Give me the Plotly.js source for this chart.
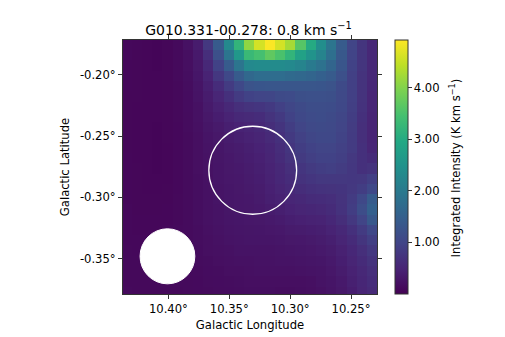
<!DOCTYPE html>
<html><head><meta charset="utf-8">
<script src="https://cdn.plot.ly/plotly-3.0.1.min.js"></script>
<style>html,body{margin:0;padding:0;background:#fff}</style></head>
<body><div id="g" style="width:505px;height:337px"></div>
<script>
const titleText = 'G010.331-00.278: 0.8 km s<sup>−1</sup>';
const xLabel = 'Galactic Longitude';
const yLabel = 'Galactic Latitude';
const cbLabel = 'Integrated Intensity (K km s<sup>−1</sup>)';
const xTickVals = [10.40, 10.35, 10.30, 10.25];
const xTickText = ['10.40°', '10.35°', '10.30°', '10.25°'];
const yTickVals = [-0.20, -0.25, -0.30, -0.35];
const yTickText = ['-0.20°', '-0.25°', '-0.30°', '-0.35°'];
const cbTickVals = [1, 2, 3, 4];
const cbTickText = ['1.00', '2.00', '3.00', '4.00'];
const intensity = [
[.10,.09,.07,.06,.08,.12,.22,.38,.80,1.4,2.3,3.2,4.1,4.6,4.9,4.6,4.25,3.6,3.0,2.4,1.9,1.4,1.0,.75,.55],
[.10,.08,.07,.06,.08,.12,.20,.34,.65,1.2,1.9,2.6,3.3,3.45,3.7,3.5,3.2,2.8,2.5,2.2,1.8,1.35,.98,.75,.55],
[.09,.08,.07,.06,.08,.12,.19,.32,.55,.95,1.4,1.9,2.3,2.35,2.35,2.35,2.3,2.2,2.0,1.85,1.6,1.3,.95,.75,.55],
[.09,.08,.07,.07,.08,.12,.18,.30,.48,.78,1.05,1.4,1.65,1.75,1.75,1.75,1.7,1.65,1.6,1.5,1.4,1.2,.92,.72,.55],
[.09,.08,.07,.07,.08,.11,.17,.27,.42,.62,.85,1.05,1.25,1.3,1.32,1.32,1.32,1.32,1.32,1.3,1.25,1.1,.92,.72,.54],
[.08,.08,.07,.07,.08,.11,.16,.25,.38,.52,.68,.85,.95,1.0,1.02,1.1,1.12,1.18,1.2,1.2,1.18,1.08,.92,.72,.52],
[.08,.07,.07,.07,.08,.11,.16,.23,.35,.45,.56,.66,.72,.76,.82,.92,1.02,1.1,1.14,1.15,1.13,1.05,.9,.7,.52],
[.08,.07,.07,.07,.08,.11,.15,.22,.32,.40,.48,.55,.58,.62,.72,.82,.95,1.05,1.12,1.13,1.1,1.02,.88,.68,.5],
[.08,.07,.07,.06,.08,.10,.15,.21,.29,.35,.42,.47,.5,.55,.64,.74,.88,1.0,1.07,1.1,1.08,1.0,.86,.66,.5],
[.08,.07,.07,.06,.08,.10,.14,.20,.27,.32,.38,.42,.46,.5,.58,.68,.82,.94,1.02,1.06,1.05,.97,.85,.66,.5],
[.08,.07,.07,.06,.07,.10,.14,.19,.25,.30,.35,.38,.42,.47,.53,.63,.76,.88,.96,1.0,1.0,.94,.84,.67,.52],
[.09,.07,.07,.06,.07,.10,.14,.19,.24,.29,.33,.36,.4,.44,.5,.6,.72,.83,.9,.95,.96,.9,.8,.68,.6],
[.09,.08,.07,.06,.07,.10,.14,.19,.24,.28,.32,.34,.38,.42,.48,.56,.66,.76,.83,.88,.9,.86,.78,.68,.72],
[.09,.08,.07,.07,.07,.10,.14,.18,.23,.28,.31,.33,.36,.4,.46,.54,.62,.7,.76,.8,.8,.8,.78,.8,.9],
[.09,.08,.07,.07,.08,.10,.14,.18,.23,.27,.3,.32,.35,.38,.44,.5,.57,.63,.68,.7,.72,.74,.8,.88,1.05],
[.09,.08,.08,.08,.08,.11,.14,.18,.23,.27,.3,.31,.33,.36,.42,.46,.52,.56,.6,.62,.65,.72,.85,1.05,1.4],
[.10,.08,.08,.08,.09,.11,.14,.18,.22,.26,.29,.31,.32,.34,.38,.42,.47,.5,.53,.55,.6,.7,.88,1.15,1.5],
[.10,.09,.09,.09,.09,.11,.14,.18,.22,.25,.28,.3,.31,.32,.34,.37,.41,.44,.46,.48,.54,.64,.8,1.0,1.35],
[.10,.09,.09,.09,.10,.12,.14,.17,.21,.24,.27,.28,.29,.3,.31,.33,.36,.38,.4,.42,.48,.56,.68,.85,1.05],
[.10,.10,.10,.10,.11,.12,.14,.17,.2,.23,.25,.27,.28,.28,.28,.3,.32,.33,.35,.38,.42,.5,.6,.75,.9],
[.11,.10,.10,.11,.11,.12,.14,.16,.19,.21,.23,.25,.26,.26,.26,.27,.28,.3,.31,.34,.38,.45,.54,.66,.8],
[.11,.11,.11,.11,.11,.12,.13,.15,.17,.19,.21,.22,.23,.24,.24,.25,.26,.27,.28,.3,.34,.41,.5,.6,.72],
[.11,.11,.11,.11,.11,.12,.13,.14,.16,.17,.19,.2,.21,.22,.22,.22,.23,.24,.25,.27,.31,.38,.46,.56,.66],
[.11,.11,.11,.11,.11,.12,.12,.13,.15,.16,.17,.18,.19,.2,.2,.2,.2,.2,.21,.25,.28,.34,.43,.53,.62],
[.12,.11,.11,.11,.11,.11,.12,.13,.14,.15,.16,.17,.18,.18,.18,.17,.17,.18,.2,.23,.27,.32,.4,.5,.58]
];
const viridis = [[0,'#440154'],[.1,'#482475'],[.2,'#414487'],[.3,'#355f8d'],[.4,'#2a788e'],[.5,'#21918c'],[.6,'#22a884'],[.7,'#44bf70'],[.8,'#7ad151'],[.9,'#bddf26'],[1,'#fde725']];
const font = {family:'"DejaVu Sans", sans-serif', size:11.6, color:'#000'};
const axis = {showgrid:false, zeroline:false, showline:true, linecolor:'#333', linewidth:1, mirror:'allticks', ticks:'outside', ticklen:4, tickwidth:1, tickcolor:'#333', tickmode:'array'};
Plotly.newPlot('g',[{
  type:'heatmap', z:intensity, x0:10.4345, dx:-0.0084, y0:-0.1755, dy:-0.0084,
  zmin:0, zmax:4.92, colorscale:viridis, zsmooth:false, hoverinfo:'skip',
  colorbar:{thickness:13, len:1, lenmode:'fraction', y:0, yanchor:'bottom', x:1.07, xanchor:'left', xpad:0, ypad:0,
    outlinecolor:'#333', outlinewidth:1, ticks:'outside', ticklen:3.5, tickwidth:1, tickcolor:'#333',
    tickmode:'array', tickvals:cbTickVals, ticktext:cbTickText, tickfont:font}
}],{
  width:505, height:337, paper_bgcolor:'#fff', plot_bgcolor:'#fff', font:font,
  margin:{l:122.5,r:128,t:40,b:42.5},
  title:{text:titleText, font:{family:font.family,size:14,color:'#000'}, x:0.492, xanchor:'center', y:0.912, yanchor:'middle'},
  xaxis:Object.assign({},axis,{range:[10.4373,10.2287], tickvals:xTickVals, ticktext:xTickText, title:{text:xLabel, font:font, standoff:5}}),
  yaxis:Object.assign({},axis,{range:[-0.379,-0.1714], tickvals:yTickVals, ticktext:yTickText, title:{text:yLabel, font:font, standoff:7}}),
  annotations:[{text:cbLabel, textangle:-90, xref:'paper', yref:'paper', x:1.3075, y:0.495, xanchor:'center', yanchor:'middle', showarrow:false, font:font}],
  shapes:[
    {type:'circle',xref:'x',yref:'y',x0:10.3668,x1:10.2947,y0:-0.3138,y1:-0.2419,line:{color:'#fff',width:1.3},fillcolor:'rgba(0,0,0,0)'},
    {type:'circle',xref:'x',yref:'y',x0:10.4233,x1:10.3783,y0:-0.3707,y1:-0.3257,line:{color:'#fff',width:1},fillcolor:'#fff'}
  ]
},{displayModeBar:false,staticPlot:true});
</script></body></html>
